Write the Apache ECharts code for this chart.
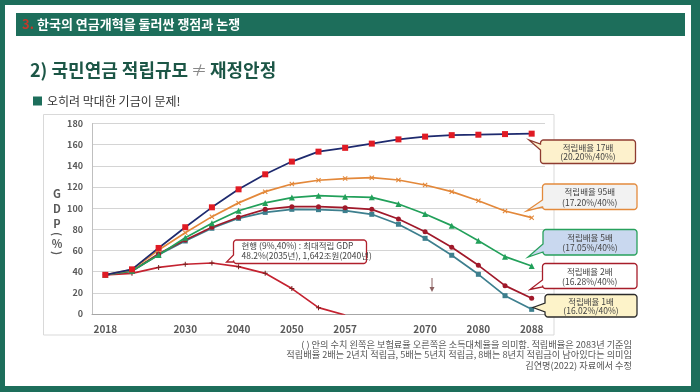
<!DOCTYPE html>
<html><head><meta charset="utf-8">
<script src="https://cdn.jsdelivr.net/npm/echarts@6/dist/echarts.min.js"></script>
<style>html,body{margin:0;padding:0;background:#fff}#c{width:700px;height:392px}</style>
</head><body><div id="c"></div>
<script>
// ---- data ----
const xLabels = ['2018','','','2030','','2040','','2050','','2057','','','2070','','2080','','2088'];
const yTicks = [0,20,40,60,80,100,120,140,160,180];
const s17 = [37,42.2,62.4,82,100.8,117.8,132,144,153.4,157,161,165,167.6,169,169.4,170,170.4];
const s95 = [37,42,60.5,76.8,92,105,115.6,122.8,126.4,128,128.8,126.6,121.9,115.6,107,97.3,91];
const s5  = [37,40.8,55.8,72,85.7,97.6,105,110,111.8,110.9,110.2,104,94.5,83.5,69.3,54.2,45.4];
const s2  = [37,40.6,57,70,82,91.4,98.9,101.4,101.4,100.5,98.9,89.8,77.8,63,46,26.8,14.8];
const s1  = [37,40.4,56,69,81,90.4,96,98.9,98.6,97.7,94.2,84.8,71.5,55.5,37.5,17.3,4.4];
const sNow = [37,38.4,44,47,48.2,44.7,38.4,24,6,-1,null,null,null,null,null,null,null];
const callouts = [
  {l1:'적립배율 17배', l2:'(20.20%/40%)'},
  {l1:'적립배율 95배', l2:'(17.20%/40%)'},
  {l1:'적립배율 5배', l2:'(17.05%/40%)'},
  {l1:'적립배율 2배', l2:'(16.28%/40%)'},
  {l1:'적립배율 1배', l2:'(16.02%/40%)'}
];
const nowNote = ['현행 (9%,40%) : 최대적립 GDP', '48.2%(2035년), 1,642조원(2040년)'];
const footnote = ['( ) 안의 수치 왼쪽은 보험료율 오른쪽은 소득대체율을 의미함. 적립배율은 2083년 기준임',
  '적립배율 2배는 2년치 적립금, 5배는 5년치 적립금, 8배는 8년치 적립금이 남아있다는 의미임',
  '김연명(2022) 자료에서 수정'];

// ---- styles ----
const FONT = '"Noto Sans CJK KR", "Noto Sans", sans-serif';
const GREEN = '#1d6e5b';
const xShape = 'path://M0 1.5L1.5 0L5 3.5L8.5 0L10 1.5L6.5 5L10 8.5L8.5 10L5 6.5L1.5 10L0 8.5L3.5 5Z';
const plusShape = 'path://M4 0H6V4H10V6H6V10H4V6H0V4H4Z';

function calloutPts(x, y, w, h, r, b1, tip, b2) {
  const pts = [];
  const arc = (cx, cy, a0, a1) => {
    for (let i = 0; i <= 4; i++) {
      const a = (a0 + (a1 - a0) * i / 4) * Math.PI / 180;
      pts.push([cx + r * Math.cos(a), cy + r * Math.sin(a)]);
    }
  };
  arc(x + r, y + r, 180, 270);
  arc(x + w - r, y + r, 270, 360);
  arc(x + w - r, y + h - r, 0, 90);
  arc(x + r, y + h - r, 90, 180);
  pts.push([x, b1], tip, [x, b2]);
  return pts;
}

const boxDefs = [
  {x:540.5, y:140, w:95, h:23.5, fill:'#fdf1cc', stroke:'#8e3b30', b1:150, tip:[529,140], b2:144},
  {x:542.5, y:184, w:94.5, h:25.5, fill:'#f2f2f2', stroke:'#e38a3c', b1:207, tip:[526.5,211], b2:200},
  {x:543, y:229.5, w:94, h:25.5, fill:'#c9d8ef', stroke:'#27a05c', b1:252, tip:[528,257], b2:244},
  {x:542.5, y:263.5, w:94.5, h:25, fill:'#ffffff', stroke:'#a71d2a', b1:287, tip:[530,289.5], b2:280},
  {x:545, y:294.5, w:92, h:22.5, fill:'#fdf3c9', stroke:'#2b2b2b', b1:312, tip:[533,307.5], b2:303}
];

const graphics = [];
// frame
graphics.push({type:'rect', shape:{x:0,y:0,width:700,height:392}, style:{fill:GREEN}, z:-10, silent:true});
graphics.push({type:'rect', shape:{x:5,y:5,width:686,height:381}, style:{fill:'#ffffff'}, z:-9, silent:true});
// title bar
graphics.push({type:'rect', shape:{x:16,y:13,width:669,height:23}, style:{fill:GREEN}, z:-8});
graphics.push({type:'text', x:22, y:24.5, style:{text:'3.', fill:'#c0392b', font:'bold 13px ' + FONT, textVerticalAlign:'middle'}});
graphics.push({type:'text', x:37, y:24.5, style:{text:'한국의 연금개혁을 둘러싼 쟁점과 논쟁', fill:'#ffffff', font:'bold 13px ' + FONT, textVerticalAlign:'middle'}});
// heading
graphics.push({type:'text', x:30, y:70, style:{text:'2) 국민연금 적립규모', fill:'#1c5646', font:'bold 18px ' + FONT, textVerticalAlign:'middle'}});
graphics.push({type:'text', x:191, y:70, style:{text:'≠', fill:'#888888', font:'16px ' + FONT, textVerticalAlign:'middle'}});
graphics.push({type:'text', x:210, y:70, style:{text:'재정안정', fill:'#1c5646', font:'bold 18px ' + FONT, textVerticalAlign:'middle'}});
// bullet
graphics.push({type:'rect', shape:{x:33,y:96.5,width:9,height:9}, style:{fill:GREEN}});
graphics.push({type:'text', x:47, y:101.5, style:{text:'오히려 막대한 기금이 문제!', fill:'#333333', font:'12px ' + FONT, textVerticalAlign:'middle'}});
// chart box
graphics.push({type:'rect', shape:{x:43.5,y:114.5,width:510.5,height:220.5}, style:{fill:'none', stroke:'#d9d9d9', lineWidth:1}, z:-5});
// y axis name
const yn = [['G',194,0],['D',209,0],['P',224,0],['(',234,-Math.PI/2],['%',244,0],[')',253,-Math.PI/2]];
yn.forEach(([t, yy, rot]) => graphics.push({type:'text', x:57, y:yy, rotation:rot,
  style:{text:t, fill:'#595959', font:'bold 11px ' + FONT, textAlign:'center', textVerticalAlign:'middle'}}));
// callouts
boxDefs.forEach((b, i) => {
  graphics.push({type:'polygon', shape:{points:calloutPts(b.x,b.y,b.w,b.h,3,b.b1,b.tip,b.b2)},
    style:{fill:b.fill, stroke:b.stroke, lineWidth:1.3}, z:20});
  graphics.push({type:'text', x:b.x + b.w/2, y:b.y + b.h*0.32, z:21,
    style:{text:callouts[i].l1, fill:'#444444', font:'8.5px ' + FONT, textAlign:'center', textVerticalAlign:'middle'}});
  graphics.push({type:'text', x:b.x + b.w/2, y:b.y + b.h*0.72, z:21,
    style:{text:callouts[i].l2, fill:'#444444', font:'8.5px ' + FONT, textAlign:'center', textVerticalAlign:'middle'}});
});
// current callout
graphics.push({type:'polygon', shape:{points:calloutPts(233.5,240,133,23.5,3,262,[226.5,262],255)},
  style:{fill:'#ffffff', stroke:'#b0202c', lineWidth:1.3}, z:20});
graphics.push({type:'text', x:241.5, y:246, z:21, style:{text:nowNote[0], fill:'#444444', font:'8.5px ' + FONT, textVerticalAlign:'middle'}});
graphics.push({type:'text', x:241.5, y:256, z:21, style:{text:nowNote[1], fill:'#444444', font:'8.5px ' + FONT, textVerticalAlign:'middle'}});
// small arrow
graphics.push({type:'line', shape:{x1:432,y1:278,x2:432,y2:289}, style:{stroke:'#8a6060', lineWidth:1}, z:15});
graphics.push({type:'polygon', shape:{points:[[429.5,287],[434.5,287],[432,292]]}, style:{fill:'#8a6060'}, z:15});
// footnote
footnote.forEach((t, i) => graphics.push({type:'text', x:632, y:344.5 + i*10.3,
  style:{text:t, fill:'#555555', font:'9.2px ' + FONT, textAlign:'right', textVerticalAlign:'middle'}}));

function line(name, data, color, symbol, size, symColor, width) {
  return {name, type:'line', data, symbol, symbolSize:size, showSymbol:true,
    lineStyle:{color, width: width || 1.7},
    itemStyle:{color: symColor || color, borderWidth:0},
    emphasis:{disabled:true}, animation:false, smooth:false};
}

const chart = echarts.init(document.getElementById('c'), null, {renderer:'canvas'});
const nowData = sNow.map((v, i) => (i === 9 ? {value:v, symbol:'none'} : v));
chart.setOption({
  animation:false,
  textStyle:{fontFamily:FONT},
  grid:{left:92, right:155, top:123.5, bottom:78},
  xAxis:{type:'category', data:xLabels.map((_, i) => String(i)), boundaryGap:true,
    axisLine:{lineStyle:{color:'#a6a6a6', width:1}}, axisTick:{show:false},
    axisLabel:{interval:0, margin:10, color:'#595959', fontWeight:'bold', fontSize:10, fontFamily:FONT,
      formatter:(v, i) => xLabels[i]}},
  yAxis:{type:'value', min:yTicks[0], max:yTicks[yTicks.length-1], interval:20,
    axisLine:{show:true, lineStyle:{color:'#bfbfbf'}}, axisTick:{show:false},
    axisLabel:{margin:9, color:'#595959', fontWeight:'bold', fontSize:9, fontFamily:FONT},
    splitLine:{lineStyle:{color:'#d4d4d4', width:1}}},
  series:[
    line('현행', nowData, '#c42230', plusShape, 5, '#7a2020', 1.7),
    line('1배', s1, '#3d7f8e', 'rect', 5, '#3d7f8e'),
    line('2배', s2, '#a0192a', 'circle', 5, '#a0192a'),
    line('5배', s5, '#22a05a', 'triangle', 6, '#22a05a'),
    line('95배', s95, '#e3883a', xShape, 5, '#e3883a'),
    line('17배', s17, '#1e2a6e', 'rect', 6, '#e01b24')
  ],
  graphic:{elements:graphics}
});
</script></body></html>
